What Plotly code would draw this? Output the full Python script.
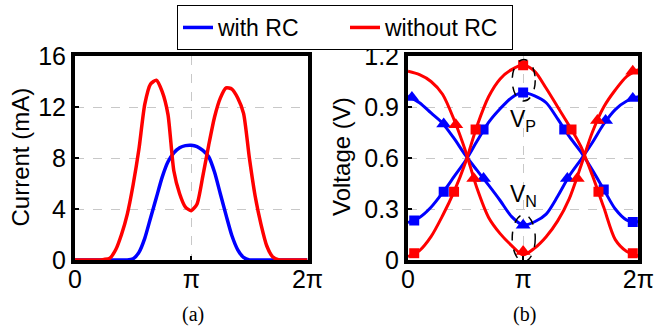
import plotly.graph_objects as go
from plotly.subplots import make_subplots

# ---------------- data (x in units of pi) ----------------
# (a) current
cur_x = [round(0.05 * i, 2) for i in range(41)]
cur_with_rc = [0, 0, 0, 0, 0, 0, 0, 0, 0, 0,
               0.1, 0.6, 1.7, 3.3, 4.9, 6.5, 7.7, 8.4, 8.8, 8.97,
               9.0, 8.9, 8.6, 8.1, 6.9, 5.2, 3.5, 1.9, 0.8, 0.2,
               0, 0, 0, 0, 0, 0, 0, 0, 0, 0, 0]
cur_without_rc = [0, 0, 0, 0, 0, 0.05, 0.15, 0.8, 2.0, 3.6,
                  5.9, 8.7, 12.2, 13.8, 14.1, 13.2, 11.4, 7.0, 5.2, 4.15,
                  3.87, 4.4, 6.6, 9.0, 11.2, 12.7, 13.5, 13.4, 12.7, 11.5,
                  8.0, 5.0, 2.8, 1.1, 0.25, 0.02, 0, 0, 0, 0, 0]

# (b) voltages
v_x = [round(0.1 * i, 1) for i in range(21)]
vp_with_rc = [0.22, 0.25, 0.31, 0.395, 0.49, 0.585, 0.70, 0.81, 0.89, 0.955, 0.985,
              0.965, 0.925, 0.83, 0.727, 0.637, 0.53, 0.415, 0.30, 0.235, 0.225]
vn_with_rc = [0.965, 0.925, 0.865, 0.805, 0.715, 0.615, 0.527, 0.44, 0.35, 0.255, 0.205,
              0.225, 0.27, 0.375, 0.494, 0.589, 0.69, 0.80, 0.885, 0.935, 0.96]
vp_without_rc = [0.02, 0.055, 0.137, 0.26, 0.402, 0.575, 0.79, 0.96, 1.065, 1.12, 1.145,
                 1.11, 1.01, 0.90, 0.79, 0.67, 0.50, 0.31, 0.12, 0.05, 0.025]
vn_without_rc = [1.11, 1.09, 1.05, 0.975, 0.825, 0.64, 0.42, 0.25, 0.155, 0.085, 0.03,
                 0.07, 0.137, 0.23, 0.36, 0.55, 0.75, 0.90, 1.00, 1.08, 1.12]

# marker samples
sq_with_x = [0.054, 0.31, 0.656, 1.0, 1.357, 1.70, 1.952]
sq_with_y = [0.233, 0.402, 0.767, 0.985, 0.767, 0.415, 0.223]
sq_without_x = [0.054, 0.40, 0.587, 1.0, 1.42, 1.654, 1.952]
sq_without_y = [0.04, 0.402, 0.767, 1.145, 0.767, 0.402, 0.04]
tri_with_x = [0.034, 0.31, 0.656, 1.0, 1.384, 1.716, 1.952]
tri_with_y = [0.956, 0.80, 0.479, 0.204, 0.479, 0.82, 0.95]
tri_without_x = [0.415, 0.571, 1.0, 1.47, 1.645, 1.952]
tri_without_y = [0.796, 0.479, 0.05, 0.479, 0.82, 1.11]

x_tickvals = [0, 1, 2]
x_ticktext = ["0", "π", "2π"]
y1_ticks = [0, 4, 8, 12, 16]
y2_ticks = [0, 0.3, 0.6, 0.9, 1.2]
y2_ticktext = ["0", "0.3", "0.6", "0.9", "1.2"]

BLUE = "#0000ff"
RED = "#ff0000"
W, H = 655, 328

fig = make_subplots(rows=1, cols=2)

fig.add_trace(go.Scatter(x=cur_x, y=cur_with_rc, mode="lines", name="with RC",
                         line=dict(color=BLUE, width=3.5, shape="spline", smoothing=0.6)), 1, 1)
fig.add_trace(go.Scatter(x=cur_x, y=cur_without_rc, mode="lines", name="without RC",
                         line=dict(color=RED, width=3.5, shape="spline", smoothing=0.6)), 1, 1)

for ys, c in [(vp_with_rc, BLUE), (vn_with_rc, BLUE), (vp_without_rc, RED), (vn_without_rc, RED)]:
    fig.add_trace(go.Scatter(x=v_x, y=ys, mode="lines", showlegend=False,
                             line=dict(color=c, width=3, shape="spline", smoothing=0.8)), 1, 2)

for xs, ys, c, sym, sz in [
    (sq_with_x, sq_with_y, BLUE, "square", 10),
    (tri_with_x, tri_with_y, BLUE, "triangle-up", 13),
    (sq_without_x, sq_without_y, RED, "square", 10),
    (tri_without_x, tri_without_y, RED, "triangle-up", 13),
]:
    fig.add_trace(go.Scatter(x=xs, y=ys, mode="markers", showlegend=False,
                             marker=dict(color=c, symbol=sym, size=sz, line=dict(width=0))), 1, 2)

FONT = "Arial, Liberation Sans, sans-serif"
ydom = [1 - 260 / H, 1 - 56 / H]
axis_common = dict(showline=True, linecolor="black", linewidth=4, mirror=True,
                   showgrid=True, gridcolor="#c8c8c8", gridwidth=1, griddash="dash",
                   ticks="inside", ticklen=4, tickwidth=2, tickcolor="black",
                   tickfont=dict(family=FONT, size=25, color="black"), zeroline=False,
                   automargin=False)

fig.update_xaxes(**axis_common, range=[0, 2], tickvals=x_tickvals, ticktext=x_ticktext,
                 ticklabelstandoff=-6)
fig.update_xaxes(domain=[75 / W, 307.5 / W], row=1, col=1)
fig.update_xaxes(domain=[408 / W, 638.3 / W], row=1, col=2)
fig.update_yaxes(**axis_common, domain=ydom, ticklabelstandoff=0)
fig.update_yaxes(range=[0, 16], tickvals=y1_ticks, row=1, col=1)
fig.update_yaxes(range=[0, 1.2], tickvals=y2_ticks, ticktext=y2_ticktext, row=1, col=2)

# ellipses around V_P and V_N at pi
for y0, y1 in [(0.935, 1.18), (-0.01, 0.267)]:
    fig.add_shape(type="circle", xref="x2", yref="y2", x0=0.905, x1=1.105, y0=y0, y1=y1,
                  line=dict(color="black", width=1.5, dash="dash"))

SERIF = "Liberation Serif, Times New Roman, serif"
ann = [
    dict(x=1.0, y=0.82, xref="x2", yref="y2", text="V<sub>P</sub>", showarrow=False,
         xanchor="center", yanchor="middle", font=dict(family=FONT, size=23, color="black")),
    dict(x=1.0, y=0.38, xref="x2", yref="y2", text="V<sub>N</sub>", showarrow=False,
         xanchor="center", yanchor="middle", font=dict(family=FONT, size=23, color="black")),
    dict(x=20 / W, y=1 - 157.5 / H, xref="paper", yref="paper", text="Current (mA)",
         xanchor="center", yanchor="middle",
         textangle=-90, showarrow=False, font=dict(family=FONT, size=24, color="black")),
    dict(x=341 / W, y=1 - 157 / H, xref="paper", yref="paper", text="Voltage (V)",
         xanchor="center", yanchor="middle",
         textangle=-90, showarrow=False, font=dict(family=FONT, size=24, color="black")),
    dict(x=193 / W, y=1 - 314 / H, xref="paper", yref="paper", text="(a)", showarrow=False,
         xanchor="center", yanchor="middle", font=dict(family=SERIF, size=20, color="black")),
    dict(x=524 / W, y=1 - 314 / H, xref="paper", yref="paper", text="(b)", showarrow=False,
         xanchor="center", yanchor="middle", font=dict(family=SERIF, size=20, color="black")),
]

fig.update_layout(
    width=W, height=H, margin=dict(l=0, r=0, t=0, b=0, autoexpand=False),
    paper_bgcolor="white", plot_bgcolor="white",
    annotations=ann,
    legend=dict(orientation="h", x=177 / W, xanchor="left", y=1 - 5 / H, yanchor="top",
                bordercolor="black", borderwidth=1, bgcolor="white",
                font=dict(family=FONT, size=23, color="black"),
                itemwidth=30, tracegroupgap=0, entrywidth=122),
)

fig.write_html("out.html", config={"displayModeBar": False},
               post_script="document.body.style.margin='0';document.body.style.overflow='hidden';")
